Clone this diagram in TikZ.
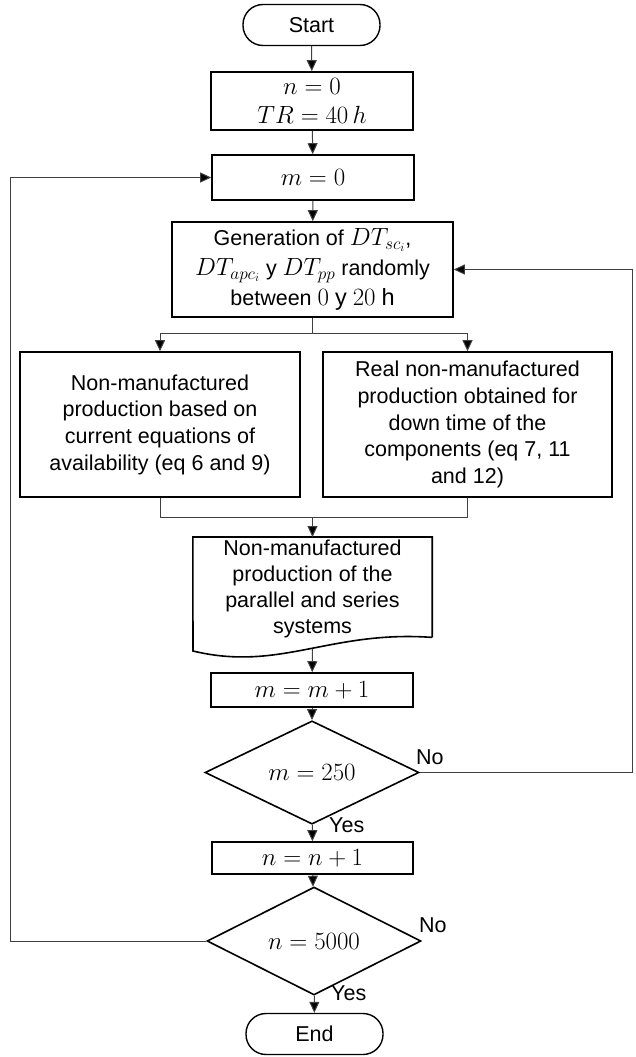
\documentclass[tikz,border=0pt]{standalone}
\usepackage{fontspec}
\setmainfont{Liberation Sans}
\DeclareMathSizes{21.5}{23.5}{17}{13}
\usetikzlibrary{shapes.geometric,arrows.meta}
\begin{document}
\begin{tikzpicture}[x=1pt,y=-1pt,
  every node/.style={font=\fontsize{21.5}{26.7}\selectfont, align=center, inner sep=0pt},
  proc/.style={draw, line width=1.6pt},
  term/.style={draw, line width=1.4pt, rounded corners=20pt, minimum width=137pt, minimum height=41pt},
  dec/.style={draw, diamond, line width=1.6pt, minimum width=214pt, minimum height=88pt},
  conn/.style={line width=1pt, draw=black!75, -{Triangle[length=11pt,width=10pt,fill=black]}},
  plain/.style={line width=1pt, draw=black!75},
  lbl/.style={font=\fontsize{21.5}{24}\selectfont, anchor=west}]
\useasboundingbox (0,0) rectangle (635,1057);

\node[term] (start) at (311.5,25) {Start};
\node[proc, minimum width=202pt, minimum height=58pt, font=\fontsize{21.5}{29}\selectfont] (n0) at (312,101) {$n=0$\\$TR=40\,h$};
\node[proc, minimum width=202pt, minimum height=45pt] (m0) at (313,177.5) {$m=0$};
\node[proc, minimum width=281pt, minimum height=95pt, font=\fontsize{21.5}{30}\selectfont] (gen) at (312.5,269.5)
  {Generation of $DT_{sc_i}$,\\$DT_{apc_i}$ y $DT_{pp}$ randomly\\between $0\ \mathrm{y}\ 20\ \mathrm{h}$};
\node[proc, minimum width=280pt, minimum height=145pt] (left) at (160,424.5)
  {Non-manufactured\\production based on\\current equations of\\availability (eq 6 and 9)};
\node[proc, minimum width=289pt, minimum height=145pt] (right) at (467.5,424.5)
  {Real non-manufactured\\production obtained for\\down time of the\\components (eq 7, 11\\and 12)};
\node[minimum width=239pt, minimum height=100pt, anchor=north] (doc) at (312.5,537) {};
\node[font=\fontsize{21.5}{26}\selectfont] (doctext) at (312.5,589)
  {Non-manufactured\\production of the\\parallel and series\\systems};
\draw[line width=1.6pt] (doc.south east) -- (doc.north east) -- (doc.north west) -- (193,651)
  .. controls (280,672) and (330,630) .. (doc.south east);
\coordinate (docw) at (312.5,649);
\node[proc, minimum width=202pt, minimum height=34pt] (m1) at (312,690) {$m=m+1$};
\node[dec] (d1) at (312,772.5) {$m=250$};
\node[proc, minimum width=201pt, minimum height=32pt] (n1) at (312.5,858) {$n=n+1$};
\node[dec] (d2) at (314,941) {$n=5000$};
\node[term] (end) at (314.5,1034) {End};

\node[lbl] (no1) at (416,757) {No};
\node[lbl] (yes1) at (329,825) {Yes};
\node[lbl] (no2) at (419,925) {No};
\node[lbl] (yes2) at (331,993) {Yes};

\draw[conn] (start) -- (n0);
\draw[conn] (n0) -- (m0);
\draw[conn] (m0) -- (gen);
\coordinate (br) at (312.5,333);
\draw[plain] (gen.south) -- (br);
\draw[conn] (br) -| (left);
\draw[conn] (br) -| (right);
\coordinate (mg) at (312.5,517);
\draw[plain] (left.south) |- (mg);
\draw[plain] (right.south) |- (mg);
\draw[conn] (mg) -- (doc.north);
\draw[conn] (docw) -- (m1);
\draw[conn] (m1) -- (d1);
\draw[conn] (d1) -- (n1);
\draw[conn] (n1) -- (d2);
\draw[conn] (d2) -- (end);
\coordinate (rr) at (632,772.5);
\draw[conn] (d1.east) -- (rr) |- (gen.east);
\coordinate (ll) at (10,941);
\draw[conn] (d2.west) -- (ll) |- (m0.west);
\end{tikzpicture}
\end{document}
